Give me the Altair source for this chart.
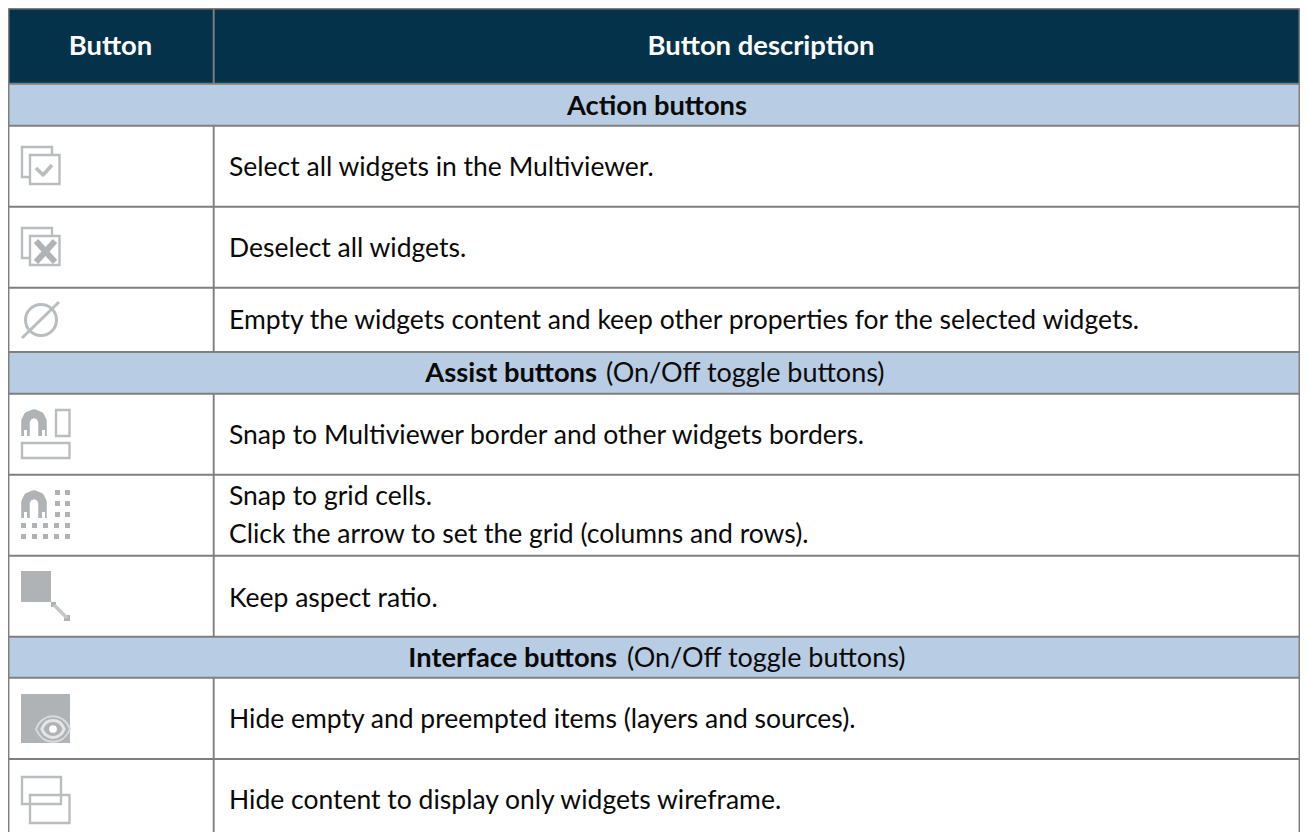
import altair as alt
import pandas as pd

FONT = "Lato"
HEADER_BG = "#03324A"
SUB_BG = "#B8CCE4"
LINE = "#7F7F7F"
ICON = "#AFB3B6"
LIGHT = "#BABDBF"
TEXT = "#0A0A0A"

# table grid
col_edges = [8.5, 213.7, 1299.5]
row_edges = [8.5, 83.7, 125.8, 206.7, 287.7, 352, 393.7, 474.7, 555.7, 636.7, 677.7, 759, 832]
sub_rows = [1, 5, 9]

# text
header_labels = ["Button", "Button description"]
header_x = [110.5, 761]
header_y = [55, 55]

section_bold = ["Action buttons", "Assist buttons", "Interface buttons"]
section_bold_x = [747, 597, 617]
section_y = [115, 382, 667]
section_rest = ["", "(On/Off toggle buttons)", "(On/Off toggle buttons)"]
section_rest_x = [747, 606, 627]

desc_lines = [
    "Select all widgets in the Multiviewer.",
    "Deselect all widgets.",
    "Empty the widgets content and keep other properties for the selected widgets.",
    "Snap to Multiviewer border and other widgets borders.",
    "Snap to grid cells.",
    "Click the arrow to set the grid (columns and rows).",
    "Keep aspect ratio.",
    "Hide empty and preempted items (layers and sources).",
    "Hide content to display only widgets wireframe.",
]
desc_y = [176, 257, 329, 444, 505, 543, 607, 728, 809]
desc_x = 229

# icon geometry (x, x2, y, y2)
outline_boxes = [
    (22, 52, 147, 177), (30, 59.5, 155, 184),
    (22, 52, 228, 258), (30, 59.5, 236, 265),
    (56, 69.5, 410, 436), (22, 69.5, 443, 458),
    (22, 61, 777, 804), (30, 69.5, 795, 823),
]
solid_boxes = [
    (21, 51, 571, 602),
    (21, 70, 694, 743),
    (64, 70, 615, 621),
    (51, 56, 602, 607),
]
dot_cols_right = [55, 65]
dot_rows_right = [490, 501, 512]
dot_cols_bottom = [21, 32, 43, 54, 65]
dot_rows_bottom = [523, 534]
magnet_tips = [
    (24, 27, 430, 436), (42, 45, 430, 436),
    (24, 27, 512, 518), (42, 45, 512, 518),
]

polylines = {
    "check": ([36, 43, 52], [168, 175, 165], 3.5, LIGHT),
    "x1": ([36, 55], [241, 262], 6.0, ICON),
    "x2": ([55, 36], [241, 262], 6.0, ICON),
    "slash": ([22, 59], [338, 302], 3.0, LIGHT),
    "magnet1": ([25.5, 25.5, 28, 34, 40, 42.5, 42.5], [436, 421, 416, 413.5, 416, 421, 436], 8.5, ICON),
    "magnet2": ([25.5, 25.5, 28, 34, 40, 42.5, 42.5], [518, 502, 497, 494.5, 497, 502, 518], 8.5, ICON),
    "arrow": ([54, 67], [605, 618], 3.5, "#C4C7C9"),
}

SX = alt.Scale(domain=[8, 1300], nice=False, zero=False)
SY = alt.Scale(domain=[832, 8], nice=False, zero=False)
X = alt.X("x:Q", scale=SX, axis=None)
Y = alt.Y("y:Q", scale=SY, axis=None)


def rects(rows, **mark):
    df = pd.DataFrame(rows, columns=["x", "x2", "y", "y2"])
    return alt.Chart(df).mark_rect(**mark).encode(x=X, x2="x2:Q", y=Y, y2="y2:Q")


def texts(xs, ys, labels, align, weight, color, size):
    df = pd.DataFrame({"x": xs, "y": ys, "t": labels})
    df = df[df["t"] != ""]
    return alt.Chart(df).mark_text(
        font=FONT, fontSize=size, fontWeight=weight, align=align,
        baseline="alphabetic", color=color,
    ).encode(x=X, y=Y, text="t:N")


layers = []

# backgrounds
layers.append(rects([(col_edges[0], col_edges[-1], row_edges[0], row_edges[1])], color=HEADER_BG))
layers.append(rects(
    [(col_edges[0], col_edges[-1], row_edges[i], row_edges[i + 1]) for i in sub_rows],
    color=SUB_BG,
))

# grid lines
h_lines = pd.DataFrame({
    "x": col_edges[0], "x2": col_edges[-1], "y": row_edges[:-1],
})
layers.append(alt.Chart(h_lines).mark_rule(color=LINE, strokeWidth=1.9).encode(x=X, x2="x2:Q", y=Y))
v_segments = [(x, row_edges[0], row_edges[-1]) for x in (col_edges[0], col_edges[-1])]
for i in range(len(row_edges) - 1):
    if i not in sub_rows:
        v_segments.append((col_edges[1], row_edges[i], row_edges[i + 1]))
v_lines = pd.DataFrame(v_segments, columns=["x", "y", "y2"])
layers.append(alt.Chart(v_lines).mark_rule(color=LINE, strokeWidth=1.9).encode(x=X, y=Y, y2="y2:Q"))

# icons
layers.append(rects(outline_boxes[:4], fill="white", stroke=LIGHT, strokeWidth=2.4))
layers.append(rects(outline_boxes[4:], fillOpacity=0, stroke=LIGHT, strokeWidth=2.4))
layers.append(rects(solid_boxes, color=ICON))
dots = [(c, c + 5, r, r + 5) for c in dot_cols_right for r in dot_rows_right]
dots += [(c, c + 5, r, r + 5) for c in dot_cols_bottom for r in dot_rows_bottom]
layers.append(rects(dots, color=ICON))

for name, (xs, ys, w, col) in polylines.items():
    df = pd.DataFrame({"x": xs, "y": ys, "o": range(len(xs))})
    layers.append(alt.Chart(df).mark_line(color=col, strokeWidth=w, strokeJoin="round").encode(x=X, y=Y, order="o:Q"))
layers.append(rects(magnet_tips, color="white"))

# round "empty" icon
layers.append(alt.Chart(pd.DataFrame({"x": [41], "y": [320]})).mark_point(
    shape="circle", size=962, filled=False, color=LIGHT, strokeWidth=3, opacity=1,
).encode(x=X, y=Y))

# eye icon
EYE = "M-1,0C-0.6,-1 0.6,-1 1,0C0.6,1 -0.6,1 -1,0Z"
eye = pd.DataFrame({"x": [53], "y": [729]})
layers.append(alt.Chart(eye).mark_point(shape=EYE, size=1156, filled=False, color="#D8D9DA", strokeWidth=2, opacity=1).encode(x=X, y=Y))
layers.append(alt.Chart(eye).mark_point(shape=EYE, size=500, filled=False, color="#E4E5E6", strokeWidth=3, opacity=1).encode(x=X, y=Y))
layers.append(alt.Chart(eye).mark_point(shape="circle", size=60, filled=True, color="white", opacity=1).encode(x=X, y=Y))

# text
layers.append(texts(header_x, header_y, header_labels, "center", "bold", "white", 27.4))
layers.append(texts(section_bold_x, section_y, section_bold, "right", "bold", TEXT, 27.3))
layers.append(texts(section_rest_x, section_y, section_rest, "left", "normal", TEXT, 27))
layers.append(texts([desc_x] * len(desc_lines), desc_y, desc_lines, "left", "normal", TEXT, 26.5))

chart = alt.layer(*layers).properties(
    width=1292, height=824, padding=0,
    autosize=alt.AutoSizeParams(type="none"),
).configure_view(stroke=None).configure(background="white")

chart.save("out.html", embed_options={"renderer": "svg", "actions": False})
